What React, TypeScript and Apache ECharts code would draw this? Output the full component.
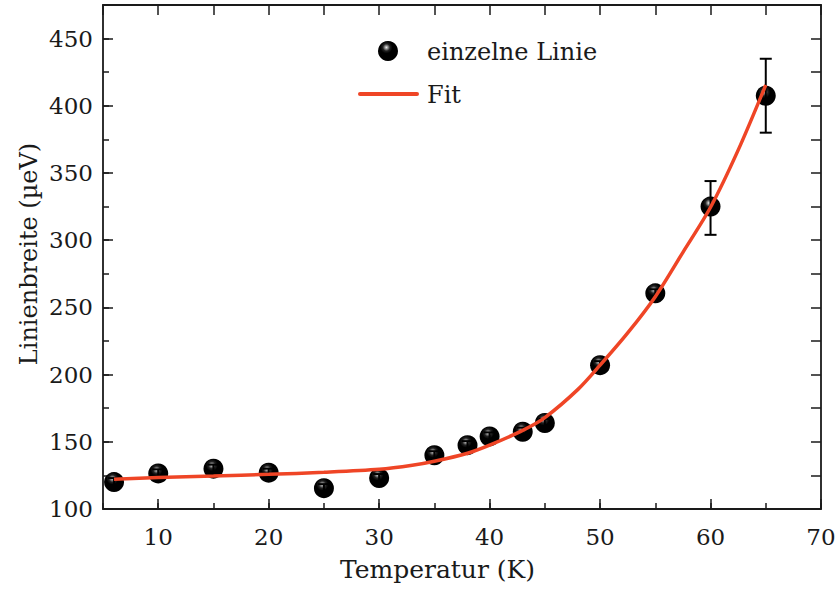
import React, { useEffect, useRef } from "react";
import * as echarts from "echarts";

// Measured points: temperature (K) and line width (µeV)
const temps = [6, 10, 15, 20, 25, 30, 35, 38, 40, 43, 45, 50, 55, 60, 65];
const widths = [120, 126.5, 130, 127, 115.5, 123, 140, 147.5, 154, 157.5, 164, 207, 260.5, 325, 407.5];
const errLower = [3, 3, 3, 3, 3, 3, 3, 3, 3, 3, 3, 3, 3, 21, 27.5];
const errUpper = [3, 3, 3, 3, 3, 3, 3, 3, 3, 3, 3, 3, 3, 19, 27.5];

// Fit curve
const fitT = [6, 10, 15, 20, 25, 30, 33, 35, 38, 40, 43, 45, 48, 50, 52.5, 55, 57.5, 60, 62.5, 65];
const fitW = [122.1, 123.4, 124.5, 125.8, 127.3, 129.5, 132.5, 135.5, 141.5, 147.5, 158.5, 168, 189, 207, 231, 258, 291, 324.5, 367, 415.5];

// Tick labels
const xMajor = [10, 20, 30, 40, 50, 60, 70];
const yMajor = [100, 150, 200, 250, 300, 350, 400, 450];

const legendNames = ["einzelne Linie", "Fit"];

const FONT = "DejaVu Serif";
const INK = "#1a1a1a";
const FIT_COLOR = "#ef4526";

export default function App() {
  const ref = useRef<HTMLDivElement>(null);
  useEffect(() => {
    if (!ref.current) return;
    const chart = echarts.init(ref.current, undefined, { renderer: "svg" });
    const ballStops = [
      { offset: 0, color: "#eeeeee" },
      { offset: 0.1, color: "#999999" },
      { offset: 0.24, color: "#222222" },
      { offset: 0.4, color: "#000000" },
      { offset: 1, color: "#000000" },
    ];
    const ballColor = { type: "radial", x: 0.42, y: 0.32, r: 0.75, colorStops: ballStops };
    const axisCommon = { type: "value", min: 5, max: 70, splitLine: { show: false } };
    const yCommon = { type: "value", min: 100, max: 475, splitLine: { show: false } };
    const lineStyle = { color: INK, width: 1.8 };
    const tickStyle = { color: INK, width: 1.5 };
    const labelStyle = { fontFamily: FONT, fontSize: 23, color: INK };
    const textStyle = (text: string, align: string, size: number) => ({
      text,
      fontFamily: FONT,
      fontSize: size,
      fill: INK,
      align,
      verticalAlign: "middle",
    });
    chart.setOption({
      animation: false,
      backgroundColor: "#ffffff",
      grid: { left: 103, right: 19, top: 5, bottom: 87, containLabel: false },
      xAxis: [
        {
          ...axisCommon,
          position: "bottom",
          interval: 5,
          axisLine: { show: true, lineStyle },
          axisTick: { show: true, inside: true, length: 6, lineStyle: tickStyle },
          axisLabel: { show: true, customValues: xMajor, margin: 16, ...labelStyle },
        },
        {
          ...axisCommon,
          position: "bottom",
          axisLine: { show: false },
          axisTick: { show: true, inside: true, length: 10, customValues: xMajor, lineStyle: tickStyle },
          axisLabel: { show: false },
        },
        {
          ...axisCommon,
          position: "top",
          interval: 5,
          axisLine: { show: true, lineStyle },
          axisTick: { show: true, inside: true, length: 10, lineStyle: tickStyle },
          axisLabel: { show: false },
        },
      ],
      yAxis: [
        {
          ...yCommon,
          position: "left",
          interval: 25,
          axisLine: { show: true, lineStyle },
          axisTick: { show: true, inside: true, length: 6, lineStyle: tickStyle },
          axisLabel: { show: true, customValues: yMajor, margin: 10, ...labelStyle },
        },
        {
          ...yCommon,
          position: "left",
          axisLine: { show: false },
          axisTick: { show: true, inside: true, length: 10, customValues: yMajor, lineStyle: tickStyle },
          axisLabel: { show: false },
        },
        {
          ...yCommon,
          position: "right",
          interval: 25,
          axisLine: { show: true, lineStyle },
          axisTick: { show: true, inside: true, length: 10, lineStyle: tickStyle },
          axisLabel: { show: false },
        },
      ],
      graphic: [
        { type: "text", x: 437.5, y: 569, style: textStyle("Temperatur (K)", "center", 25) },
        {
          type: "text",
          x: 29,
          y: 254,
          rotation: Math.PI / 2,
          style: textStyle("Linienbreite (µeV)", "center", 24),
        },
        // legend
        {
          type: "circle",
          shape: { cx: 388, cy: 51, r: 10 },
          style: { fill: new echarts.graphic.RadialGradient(0.42, 0.32, 0.75, ballStops) },
        },
        { type: "text", x: 427, y: 52, style: textStyle(legendNames[0], "left", 24) },
        {
          type: "line",
          shape: { x1: 360, y1: 94, x2: 417, y2: 94 },
          style: { stroke: FIT_COLOR, lineWidth: 4, lineCap: "round" },
        },
        { type: "text", x: 427, y: 95, style: textStyle(legendNames[1], "left", 24) },
      ],
      series: [
        {
          name: legendNames[0],
          type: "scatter",
          xAxisIndex: 0,
          yAxisIndex: 0,
          symbol: "circle",
          symbolSize: 20,
          itemStyle: { color: ballColor, opacity: 1 },
          data: temps.map((t, i) => [t, widths[i]]),
          z: 2,
        },
        {
          name: "errors",
          type: "custom",
          xAxisIndex: 0,
          yAxisIndex: 0,
          z: 3,
          data: temps.map((t, i) => [t, widths[i] - errLower[i], widths[i] + errUpper[i]]),
          renderItem: (params: any, api: any) => {
            const x = api.value(0);
            const lo = api.coord([x, api.value(1)]);
            const hi = api.coord([x, api.value(2)]);
            const half = 6;
            const st = { stroke: "#000", lineWidth: 2 };
            return {
              type: "group",
              children: [
                { type: "line", shape: { x1: lo[0], y1: lo[1], x2: hi[0], y2: hi[1] }, style: st },
                { type: "line", shape: { x1: lo[0] - half, y1: lo[1], x2: lo[0] + half, y2: lo[1] }, style: st },
                { type: "line", shape: { x1: hi[0] - half, y1: hi[1], x2: hi[0] + half, y2: hi[1] }, style: st },
              ],
            };
          },
        },
        {
          name: legendNames[1],
          type: "line",
          xAxisIndex: 0,
          yAxisIndex: 0,
          smooth: 0.3,
          showSymbol: false,
          symbol: "none",
          lineStyle: { color: FIT_COLOR, width: 3.5 },
          itemStyle: { color: FIT_COLOR },
          data: fitT.map((t, i) => [t, fitW[i]]),
          z: 4,
        },
      ],
    });
    return () => chart.dispose();
  }, []);
  return (
    <div
      ref={ref}
      style={{ position: "fixed", left: 0, top: 0, width: 840, height: 596, background: "#fff" }}
    />
  );
}
